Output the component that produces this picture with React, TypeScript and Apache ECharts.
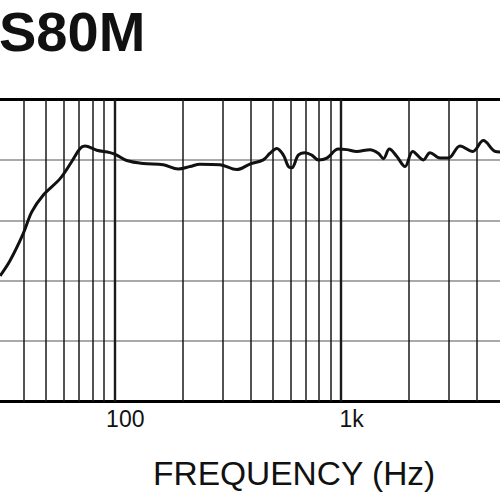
import React, { useEffect, useRef } from "react";
import * as echarts from "echarts";

const freqs = [31.3, 34.6, 39.6, 43.2, 48.6, 57.6, 64.8, 70.6, 74.2, 83.6, 95.7, 102.5, 113.4, 134.3, 164.6, 191.7, 216, 239, 293, 347, 397, 455, 487, 522, 558, 587, 608, 650, 696, 745, 796, 868, 976, 1063, 1177, 1347, 1466, 1543, 1640, 1767, 1923, 2080, 2316, 2480, 2746, 2988, 3365, 3829, 4265, 4803, 5053];
const levels = [20.8, 23.3, 27.8, 31.4, 34.2, 36.9, 39.7, 41.9, 42.3, 41.6, 41.2, 40.8, 39.9, 39.4, 39.2, 38.5, 38.9, 39.3, 39.2, 38.4, 39.3, 40.0, 41.1, 41.9, 40.8, 38.9, 38.7, 40.8, 41.2, 40.8, 40.0, 40.3, 41.8, 41.7, 41.4, 41.7, 41.1, 40.2, 41.8, 40.6, 38.9, 41.4, 40.0, 41.2, 40.3, 40.3, 42.3, 41.4, 43.2, 41.4, 41.3];
const gridFreqs = [40, 50, 60, 70, 80, 90, 100, 200, 300, 400, 500, 600, 700, 800, 900, 1000, 2000, 3000, 4000];
const labelFreqs = [100, 1000];
const labelTexts = ["100", "1k"];
const freqMin = 31.27;
const freqMax = 5053;
const title = "S80M";
const axisTitle = "FREQUENCY (Hz)";

export default function App() {
  const ref = useRef<HTMLDivElement>(null);
  useEffect(() => {
    if (!ref.current) return;
    const chart = echarts.init(ref.current, null, { renderer: "svg" });
    const font = "'Liberation Sans', Arial, sans-serif";
    chart.setOption({
      animation: false,
      backgroundColor: "#ffffff",
      title: [
        {
          text: title,
          left: -1,
          top: 3,
          padding: 0,
          textStyle: { fontSize: 56, fontWeight: "bold", fontFamily: font, color: "#111" },
        },
        {
          text: axisTitle,
          left: 153,
          top: 456,
          padding: 0,
          textStyle: { fontSize: 33.5, fontWeight: "normal", fontFamily: font, color: "#111" },
        },
      ],
      grid: { left: 0, right: 0, top: 99.5, bottom: 98.5, containLabel: false },
      xAxis: [
        {
          type: "log",
          logBase: 10,
          min: freqMin,
          max: freqMax,
          axisLine: { show: true, onZero: false, lineStyle: { color: "#000", width: 3 } },
          axisTick: { show: false },
          splitLine: { show: false },
          minorSplitLine: { show: false },
          axisLabel: {
            show: true,
            customValues: labelFreqs,
            formatter: (v: number) => {
              const i = labelFreqs.findIndex((f) => Math.abs(f - v) < 1e-6 * f);
              return i >= 0 ? labelTexts[i] : "";
            },
            margin: 6,
            padding: [0, 0, 0, 22],
            fontSize: 23,
            fontFamily: font,
            color: "#111",
          },
        },
        {
          type: "log",
          logBase: 10,
          min: freqMin,
          max: freqMax,
          position: "top",
          axisLine: { show: true, onZero: false, lineStyle: { color: "#000", width: 3 } },
          axisTick: { show: false },
          splitLine: { show: false },
          axisLabel: { show: false },
        },
      ],
      yAxis: {
        type: "value",
        min: 0,
        max: 50,
        interval: 10,
        axisLine: { show: false },
        axisTick: { show: false },
        axisLabel: { show: false },
        splitLine: { show: true, lineStyle: { color: "#8c8c8c", width: 1.5 } },
      },
      series: [
        {
          type: "line",
          xAxisIndex: 0,
          data: freqs.map((f, i) => [f, levels[i]]),
          smooth: 0.35,
          showSymbol: false,
          symbol: "none",
          lineStyle: { color: "#111", width: 3 },
          z: 5,
          markLine: {
            silent: true,
            symbol: "none",
            label: { show: false },
            lineStyle: { color: "#222", width: 1.5, type: "solid" },
            data: gridFreqs.map((f) => ({
              xAxis: f,
              lineStyle: { color: "#1a1a1a", width: f === 100 || f === 1000 ? 2.4 : 1.5, type: "solid" },
            })),
          },
        },
      ],
    });
    return () => chart.dispose();
  }, []);
  return (
    <div
      ref={ref}
      style={{ position: "fixed", left: 0, top: 0, width: 500, height: 500, background: "#fff" }}
    />
  );
}
